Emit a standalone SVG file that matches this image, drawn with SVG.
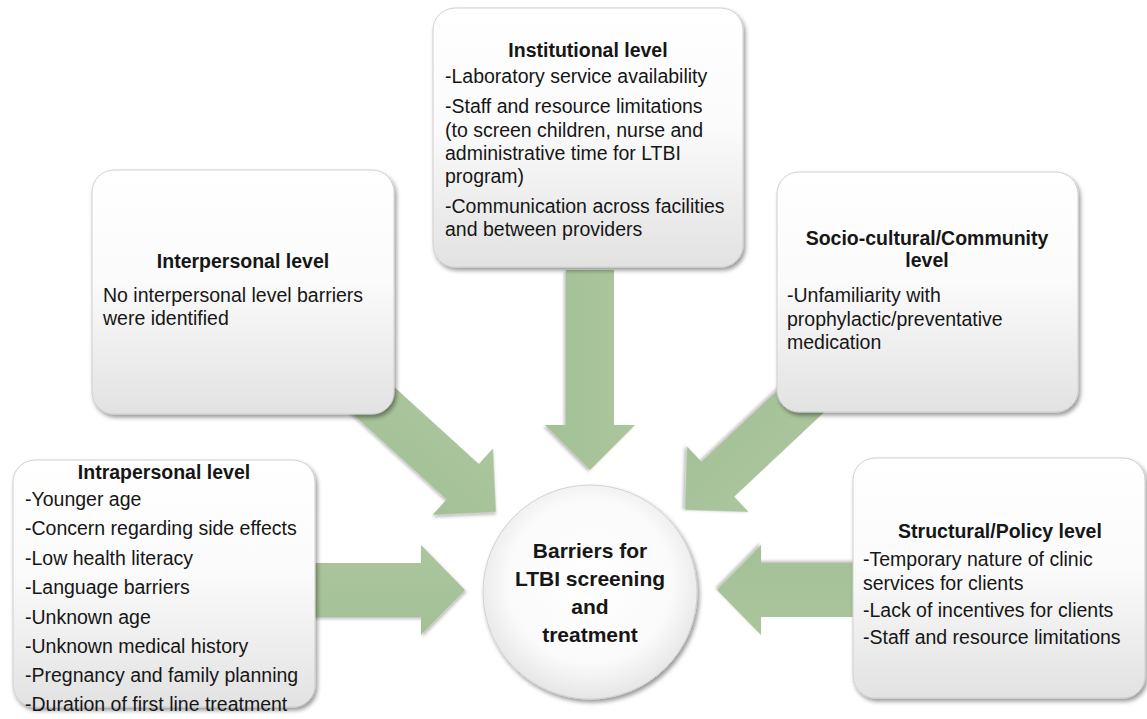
<svg xmlns="http://www.w3.org/2000/svg" width="1147" height="719" viewBox="0 0 1147 719">
  <defs>
    <linearGradient id="boxFill" x1="0" y1="0" x2="0" y2="1">
      <stop offset="0" stop-color="#ffffff"/>
      <stop offset="0.45" stop-color="#fbfbfb"/>
      <stop offset="1" stop-color="#e2e2e2"/>
    </linearGradient>
    <radialGradient id="circleFill" cx="0.5" cy="0.45" r="0.55">
      <stop offset="0" stop-color="#ffffff"/>
      <stop offset="0.7" stop-color="#fafafa"/>
      <stop offset="1" stop-color="#e6e6e6"/>
    </radialGradient>
    <linearGradient id="arrowFill" x1="0" y1="0" x2="0" y2="1">
      <stop offset="0" stop-color="#abc69d"/>
      <stop offset="1" stop-color="#a4c096"/>
    </linearGradient>
    <filter id="shadow" x="-10%" y="-10%" width="125%" height="125%">
      <feDropShadow dx="2" dy="3" stdDeviation="2" flood-color="#000" flood-opacity="0.4"/>
    </filter>
    <filter id="arrowShadow" x="-10%" y="-10%" width="125%" height="125%">
      <feDropShadow dx="1.5" dy="2" stdDeviation="1.5" flood-color="#000" flood-opacity="0.25"/>
    </filter>
    <!-- block arrows pointing right, tip at origin -->
    <polygon id="blockArrow" points="-200,-24 -45,-24 -45,-45 0,0 -45,45 -45,24 -200,24"/>
    <polygon id="wideArrow" points="-160,-27 -44,-27 -44,-45 0,0 -44,45 -44,27 -160,27"/>
  </defs>
  <style>
    .box { fill: url(#boxFill); stroke: #cfcfcf; stroke-width: 1; filter: url(#shadow); }
    .hub { fill: url(#circleFill); stroke: #d2d2d2; stroke-width: 1; filter: url(#shadow); }
    .arrow { fill: url(#arrowFill); filter: url(#arrowShadow); }
    text { font-family: "Liberation Sans", Arial, sans-serif; font-size: 19.5px; fill: #161616; }
    .title { font-weight: bold; text-anchor: middle; }
    .hubText { font-weight: bold; font-size: 21px; text-anchor: middle; }
  </style>

  <rect width="1147" height="719" fill="#ffffff"/>

  <!-- block arrows converging on the central circle -->
  <g id="connectors">
    <use href="#blockArrow" class="arrow" transform="translate(590,470) rotate(90)"/>
    <use href="#blockArrow" class="arrow" transform="translate(496,512) rotate(42.3)"/>
    <use href="#blockArrow" class="arrow" transform="translate(685,510) rotate(136.8)"/>
    <use href="#wideArrow" class="arrow" transform="translate(465,590)"/>
    <use href="#wideArrow" class="arrow" transform="translate(717,590) rotate(180)"/>
  </g>

  <g id="institutional">
    <rect class="box" x="433" y="8" width="310" height="259" rx="22"/>
    <text class="title" x="588" y="57">Institutional level</text>
    <text x="445" y="83">-Laboratory service availability</text>
    <text x="445" y="113">-Staff and resource limitations</text>
    <text x="445" y="137">(to screen children, nurse and</text>
    <text x="445" y="160">administrative time for LTBI</text>
    <text x="445" y="183">program)</text>
    <text x="445" y="213">-Communication across facilities</text>
    <text x="445" y="236">and between providers</text>
  </g>

  <g id="interpersonal">
    <rect class="box" x="92" y="170" width="302" height="244" rx="22"/>
    <text class="title" x="243" y="268">Interpersonal level</text>
    <text x="103" y="302">No interpersonal level barriers</text>
    <text x="103" y="325">were identified</text>
  </g>

  <g id="socio-cultural">
    <rect class="box" x="777" y="172" width="301" height="240" rx="22"/>
    <text class="title" x="927" y="245">Socio-cultural/Community</text>
    <text class="title" x="927" y="267">level</text>
    <text x="787" y="302">-Unfamiliarity with</text>
    <text x="787" y="326">prophylactic/preventative</text>
    <text x="787" y="349">medication</text>
  </g>

  <g id="intrapersonal">
    <rect class="box" x="13" y="460" width="302" height="247" rx="22"/>
    <text class="title" x="164" y="479">Intrapersonal level</text>
    <text x="25" y="506">-Younger age</text>
    <text x="25" y="535">-Concern regarding side effects</text>
    <text x="25" y="565">-Low health literacy</text>
    <text x="25" y="594">-Language barriers</text>
    <text x="25" y="624">-Unknown age</text>
    <text x="25" y="653">-Unknown medical history</text>
    <text x="25" y="682">-Pregnancy and family planning</text>
    <text x="25" y="711">-Duration of first line treatment</text>
  </g>

  <g id="structural">
    <rect class="box" x="853" y="458" width="292" height="240" rx="22"/>
    <text class="title" x="1000" y="538">Structural/Policy level</text>
    <text x="863" y="566">-Temporary nature of clinic</text>
    <text x="863" y="590">services for clients</text>
    <text x="863" y="617">-Lack of incentives for clients</text>
    <text x="863" y="644">-Staff and resource limitations</text>
  </g>

  <g id="barriers">
    <circle class="hub" cx="590" cy="592" r="107"/>
    <text class="hubText" x="590" y="558">Barriers for</text>
    <text class="hubText" x="590" y="586">LTBI screening</text>
    <text class="hubText" x="590" y="614">and</text>
    <text class="hubText" x="590" y="642">treatment</text>
  </g>
</svg>
